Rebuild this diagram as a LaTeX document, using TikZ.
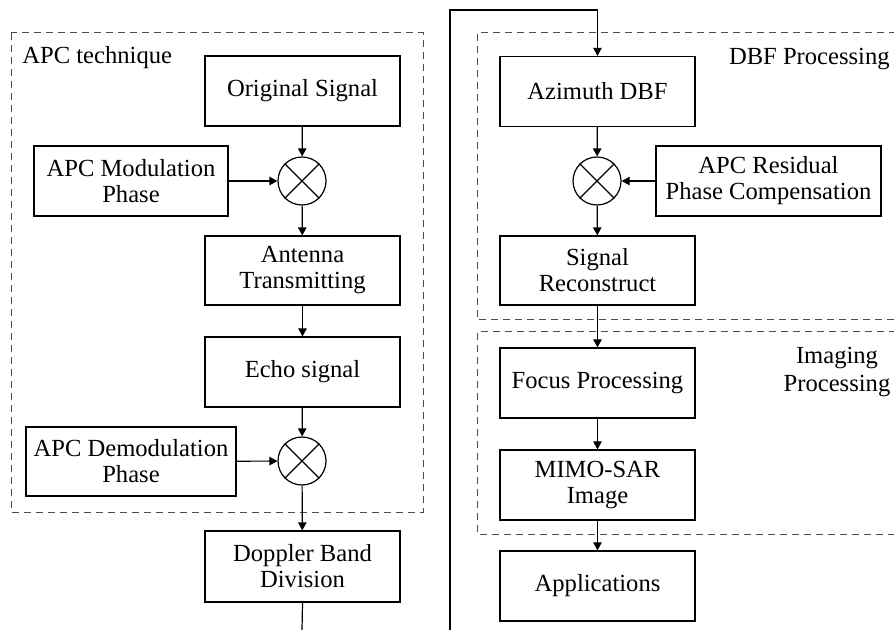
\documentclass[tikz,border=0pt]{standalone}
\usepackage{fontspec}
\setmainfont{Liberation Serif}
\usetikzlibrary{arrows.meta}

\begin{document}
\begin{tikzpicture}[x=0.5pt,y=-0.5pt,
  every node/.style={font=\fontsize{12.3}{13}\selectfont},
  blk/.style={draw, line width=0.6pt, align=center, inner sep=0pt,
              minimum width=97.5pt, minimum height=35pt},
  mixer/.style={draw, circle, line width=0.6pt, minimum size=24pt, inner sep=0pt},
  flow/.style={line width=0.6pt, -{Triangle[length=4pt,width=4.2pt]}},
  wire/.style={line width=0.6pt},
  region/.style={line width=0.5pt, black!70, dash pattern=on 3.5pt off 2.5pt},
  tag/.style={inner sep=0pt}
]
\useasboundingbox (0,0) rectangle (894,630);

% dashed regions
\draw[region] (11,33) rectangle (423,512);
\draw[region] (896,33) -- (477,33) -- (477,320) -- (896,320);
\draw[region] (896,332) -- (477,332) -- (477,534) -- (896,534);

\node[tag, anchor=base west] (lblapc) at (22,64) {APC technique};
\node[tag, anchor=base east] (lbldbf) at (890,65) {DBF Processing};
\node[tag, align=center, font=\fontsize{12.3}{14}\selectfont] (lblimg) at (837,372) {Imaging\\Processing};

% left chain: APC modulation / demodulation
\node[blk] (orig) at (302.5,91) {Original Signal};
\node[mixer] (mx1) at (302,181) {};
\node[blk, minimum width=97pt] (mod) at (131,181) {APC Modulation\\Phase};
\node[blk, minimum height=34.5pt] (ant) at (302.5,270.5) {Antenna\\Transmitting};
\node[blk] (echo) at (302.5,372) {Echo signal};
\node[mixer] (mx2) at (302,461) {};
\node[blk, minimum width=105pt, minimum height=34.5pt] (demod) at (131,461.5) {APC Demodulation\\Phase};
\node[blk, minimum height=35.5pt] (dop) at (302.5,566.5) {Doppler Band\\Division};

% right chain: DBF and imaging
\node[blk] (az) at (597.5,91.5) {Azimuth DBF};
\node[mixer] (mx3) at (597,181) {};
\node[blk, minimum width=112.5pt] (res) at (768.5,181) {APC Residual\\Phase Compensation};
\node[blk, minimum height=34.5pt] (rec) at (597.5,270.5) {Signal\\Reconstruct};
\node[blk] (focus) at (597.5,383) {Focus Processing};
\node[blk] (mimo) at (597.5,485) {MIMO-SAR\\Image};
\node[blk] (app) at (597.5,586) {Applications};

% crosses inside the mixers
\foreach \m in {mx1,mx2,mx3}{
  \draw[wire] (\m.north east) -- (\m.south west);
  \draw[wire] (\m.north west) -- (\m.south east);
}

% connectors
\draw[flow] (orig) -- (mx1);
\draw[flow] (mod) -- (mx1);
\draw[flow] (mx1) -- (ant);
\draw[flow] (ant) -- (echo);
\draw[flow] (echo) -- (mx2);
\draw[flow] (demod) -- (mx2);
\draw[flow] (mx2) -- (dop);

\coordinate (dopout) at (302,630);
\coordinate (retbot) at (450,630);
\coordinate (rettop) at (450,10);
\coordinate (azin) at (597.5,10);
\draw[wire] (dop.south) -- (dopout);
\draw[flow] (retbot) -- (rettop) -- (azin) -- (az.north);

\draw[flow] (az) -- (mx3);
\draw[flow] (res) -- (mx3);
\draw[flow] (mx3) -- (rec);
\draw[flow] (rec) -- (focus);
\draw[flow] (focus) -- (mimo);
\draw[flow] (mimo) -- (app);
\end{tikzpicture}
\end{document}
